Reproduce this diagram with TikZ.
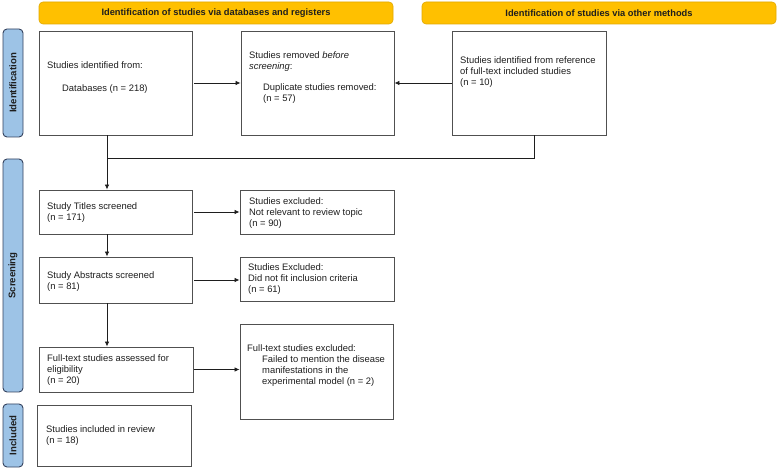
\documentclass[tikz,border=0pt]{standalone}
\usepackage{fontspec}
\setmainfont{Liberation Sans}
\usetikzlibrary{arrows.meta}
\definecolor{hdrfill}{HTML}{FFC000}
\definecolor{hdrdraw}{HTML}{E0A800}
\definecolor{sidefill}{HTML}{9DC3E6}
\definecolor{sidedraw}{HTML}{34425E}
\definecolor{boxdraw}{HTML}{505050}
\definecolor{txtcol}{HTML}{1E1E1E}
\tikzset{
  hdr/.style={draw=hdrdraw, fill=hdrfill, rounded corners=4pt, line width=0.6pt, inner sep=0pt,
    font=\fontsize{9.3}{11}\selectfont\bfseries, text=txtcol},
  side/.style={draw=sidedraw, fill=sidefill, rounded corners=4pt, line width=0.9pt, inner sep=0pt,
    font=\fontsize{9.6}{11}\selectfont\bfseries, text=txtcol},
  box/.style={draw=boxdraw, line width=0.9pt, inner sep=0pt, fill=white},
  txt/.style={anchor=west, align=left, inner sep=0pt, text=txtcol,
    font=\fontsize{9.4}{11}\selectfont},
  conn/.style={draw=txtcol, line width=0.8pt},
  arr/.style={conn, -{Latex[length=5pt,width=4.5pt]}}
}
\begin{document}
\begin{tikzpicture}[x=1pt,y=-1pt]
\useasboundingbox (0,0) rectangle (777,470);
% headers
\node[hdr, minimum width=354pt, minimum height=22pt] (h1) at (216,13) {Identification of studies via databases and registers};
\node[hdr, minimum width=354pt, minimum height=22pt] (h2) at (599,13) {Identification of studies via other methods};
% side bars
\node[side, minimum width=20pt, minimum height=108pt] (s1) at (13,83) {\rotatebox{90}{Identification}};
\node[side, minimum width=20pt, minimum height=233pt] (s2) at (13,275.5) {\rotatebox{90}{Screening}};
\node[side, minimum width=20pt, minimum height=63pt] (s3) at (13,435.5) {\rotatebox{90}{Included}};
% boxes
\node[box, minimum width=153pt, minimum height=104pt] (b1) at (115.5,83) {};
\node[box, minimum width=153pt, minimum height=104pt] (b2) at (317.5,83) {};
\node[box, minimum width=154pt, minimum height=104pt] (b3) at (529,83) {};
\node[box, minimum width=153pt, minimum height=44pt] (t1) at (115.5,212) {};
\node[box, minimum width=154pt, minimum height=44pt] (e1) at (317,212) {};
\node[box, minimum width=153pt, minimum height=46pt] (a1) at (115.5,280) {};
\node[box, minimum width=154pt, minimum height=44pt] (e2) at (317,279) {};
\node[box, minimum width=154pt, minimum height=45pt] (f1) at (116,369.5) {};
\node[box, minimum width=153pt, minimum height=95pt] (fe) at (316.5,371.5) {};
\node[box, minimum width=154pt, minimum height=61pt] (inc) at (114,435.5) {};
% texts
\node[txt] (b1t) at (47,78) {Studies identified from:\\[12pt]\hspace*{15pt}Databases (n = 218)};
\node[txt] (b2t) at (249,77.5) {Studies removed \textit{before}\\\textit{screening}:\\[10pt]\hspace*{14pt}Duplicate studies removed:\\\hspace*{14pt}(n = 57)};
\node[txt] (b3t) at (460,72.5) {Studies identified from reference\\of full-text included studies\\(n = 10)};
\node[txt] (t1t) at (47,213) {Study Titles screened\\(n = 171)};
\node[txt] (e1t) at (249,213.5) {Studies excluded:\\Not relevant to review topic\\(n = 90)};
\node[txt] (a1t) at (47,282) {Study Abstracts screened\\(n = 81)};
\node[txt] (e2t) at (248,279.5) {Studies Excluded:\\Did not fit inclusion criteria\\(n = 61)};
\node[txt] (f1t) at (47,370.5) {Full-text studies assessed for\\eligibility\\(n = 20)};
\node[txt] (fet) at (247,366) {Full-text studies excluded:\\\hspace*{15pt}Failed to mention the disease\\\hspace*{15pt}manifestations in the\\\hspace*{15pt}experimental model (n = 2)};
\node[txt] (inct) at (46,435.5) {Studies included in review\\(n = 18)};
% connectors
\coordinate (j1) at (107,158);
\coordinate (j3) at (534,158);
\draw[arr, shorten <=2pt] (b1) -- (b2);
\draw[arr] (b3) -- (b2);
\draw[conn] (b1.south -| j1) -- (j1) -- (j3) -- (b3.south -| j3);
\draw[arr] (j1) -- (t1.north -| j1);
\draw[arr] (t1.south -| j1) -- (a1.north -| j1);
\draw[arr] (a1.south -| j1) -- (f1.north -| j1);
\draw[arr, shorten <=2pt] (t1.east) -- (t1.east -| e1.west);
\draw[arr, shorten <=2pt] (a1.east) -- (a1.east -| e2.west);
\draw[arr, shorten <=1pt] (f1.east) -- (f1.east -| fe.west);
\end{tikzpicture}
\end{document}
